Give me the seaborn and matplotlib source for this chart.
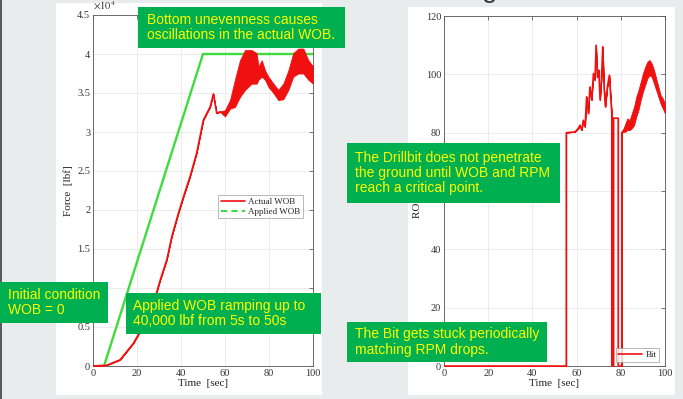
import numpy as np
import matplotlib
matplotlib.use("Agg")
import matplotlib.pyplot as plt
import seaborn as sns
from matplotlib.patches import Rectangle
from matplotlib.lines import Line2D
from matplotlib.ticker import FuncFormatter

# ---------------- data ----------------
# Left panel: force in units of 10^4 lbf
t_applied = [0, 5, 50, 100]
wob_applied = [0, 0, 4.0, 4.0]

t_actual = [0, 6.2, 12.3, 18.3, 24.4, 27.4, 30.5, 33.5, 35.8, 38.8,
            41.1, 44.1, 47.1, 48.6, 50.1, 51.7, 53.2, 54.7, 56.2, 57.7,
            60.0, 62.3, 64.5, 66.8, 69.1, 72.1, 74.4, 75.2, 76.7, 78.2,
            79.7, 82.0, 84.2, 86.5, 88.8, 91.0, 93.3, 95.6, 97.9, 100]
wob_low = [0, 0.01, 0.08, 0.29, 0.59, 0.80, 1.10, 1.36, 1.66, 1.96,
           2.17, 2.43, 2.73, 2.94, 3.15, 3.24, 3.32, 3.49, 3.24, 3.26,
           3.20, 3.30, 3.32, 3.45, 3.54, 3.62, 3.62, 3.67, 3.71, 3.67,
           3.58, 3.50, 3.41, 3.42, 3.54, 3.71, 3.75, 3.75, 3.67, 3.62]
wob_high = [0, 0.01, 0.08, 0.29, 0.59, 0.80, 1.10, 1.36, 1.66, 1.96,
            2.17, 2.43, 2.73, 2.94, 3.15, 3.24, 3.32, 3.49, 3.24, 3.26,
            3.28, 3.41, 3.67, 3.92, 4.05, 4.05, 4.01, 3.84, 3.92, 3.79,
            3.71, 3.62, 3.54, 3.62, 3.79, 4.01, 4.07, 4.07, 3.92, 3.84]

# Right panel: ROP of the bit
t_rop = [0, 55.3, 55.3, 59.3, 60.8, 61.5, 62.3, 63.0, 63.8, 64.5,
         65.3, 66.0, 66.8, 67.6, 68.3, 68.8, 69.4, 70.0, 70.6, 71.2,
         71.8, 72.4, 73.0, 73.9, 74.8, 75.4, 75.9, 75.9, 76.6, 76.6,
         78.8, 78.8, 80.4, 80.4,
         81, 82, 83, 84, 85, 86, 87, 88, 89, 90,
         91, 92, 93, 94, 95, 96, 97, 98, 99, 100]
rop_spikes = [0, 0, 80, 80.3, 81.5, 82.6, 80.9, 84.3, 82, 92.3,
              86.6, 95.7, 91.2, 100.3, 98, 110, 99, 101.5, 91.2, 98,
              109.5, 95.7, 88.9, 95.7, 99.7, 92.3, 86.6, 0, 0, 85,
              85, 0, 0, 80]
rop_band_low = [80.3, 80.3, 80.9, 80.9, 81.5, 82.6, 85.5, 87.8, 91.2, 94,
                96.3, 98.6, 99.7, 99.1, 96.9, 94.6, 92.3, 90, 88.3, 86.6]
rop_band_high = [80.8, 83, 84.9, 84.3, 86.6, 88.9, 92.3, 94.6, 97.4, 100.3,
                 102.5, 104.3, 104.9, 103.7, 101.5, 98.6, 95.7, 92.9, 91.7, 90]

x_ticks = [0, 20, 40, 60, 80, 100]
wob_ticks = [0, 0.5, 1, 1.5, 2, 2.5, 3, 3.5, 4, 4.5]
rop_ticks = [0, 20, 40, 60, 80, 100, 120]

notes = [
    ("Bottom unevenness causes\noscillations in the actual WOB.", (138, 7, 345, 48), 147),
    ("Initial condition\nWOB = 0", (0, 282, 108, 323), 8),
    ("Applied WOB ramping up to\n40,000 lbf from 5s to 50s", (126, 293, 321, 334), 133),
    ("The Drillbit does not penetrate\nthe ground until WOB and RPM\nreach a critical point.", (347, 143, 560, 203), 355),
    ("The Bit gets stuck periodically\nmatching RPM drops.", (347, 322, 547, 362), 355),
]

# ---------------- style ----------------
sns.set_style("white")
plt.rcParams['font.family'] = ['Liberation Serif', 'DejaVu Serif']
plt.rcParams['mathtext.fontset'] = 'stix'

W, H = 683, 399
fig = plt.figure(figsize=(W / 100, H / 100), dpi=100, facecolor='#e8ecec')

def fx(x):
    return x / W

def fy(y):
    return 1 - y / H

# white "pasted" panels
for (x0, y0, x1, y1) in [(56, 3, 322, 395), (408, 7, 675, 395)]:
    fig.add_artist(Rectangle((fx(x0), fy(y1)), fx(x1 - x0), (y1 - y0) / H,
                             transform=fig.transFigure, facecolor='white',
                             edgecolor='none', zorder=-5))
fig.add_artist(Rectangle((0, 0), 1.5 / W, 1, transform=fig.transFigure,
                         facecolor='#5a5a5a', edgecolor='none', zorder=-4))

ax1 = fig.add_axes([fx(93), fy(366), fx(220), 351 / H])
ax2 = fig.add_axes([fx(444), fy(366), fx(221), 350 / H])

red = '#f01010'
green = '#3fdc3f'

# ---- left panel ----
sns.lineplot(x=t_applied, y=wob_applied, ax=ax1, color=green, lw=1.7,
             estimator=None, sort=False, legend=False, zorder=2)
ax1.fill_between(t_actual, wob_low, wob_high, color=red, lw=0.6, zorder=3)
wob_mid = (np.array(wob_low) + np.array(wob_high)) / 2
sns.lineplot(x=t_actual, y=wob_mid, ax=ax1, color=red, lw=1.1,
             estimator=None, sort=False, legend=False, zorder=3)
ax1.set_xlim(0, 100)
ax1.set_ylim(0, 4.5)
ax1.set_yticks(wob_ticks)
ax1.yaxis.set_major_formatter(FuncFormatter(lambda v, p: f'{v:g}'))
ax1.text(0, 1.008, r'$\times10^{4}$', transform=ax1.transAxes, ha='left',
         va='bottom', fontsize=7.5, color='#333333')
ax1.set_ylabel('Force  [lbf]', fontsize=8, labelpad=3, color='#222222')
handles = [Line2D([], [], color=red, lw=1.2),
           Line2D([], [], color=green, lw=1.5, ls=(0, (3, 2)))]
leg1 = ax1.legend(handles, ['Actual WOB', 'Applied WOB'], loc='upper right',
                  bbox_to_anchor=(0.955, 0.487), borderaxespad=0,
                  fontsize=6.5, frameon=True, fancybox=False,
                  handlelength=2.6, handletextpad=0.4, borderpad=0.3,
                  labelspacing=0.15)

# ---- right panel ----
rop_low = rop_spikes + rop_band_low
rop_high = rop_spikes + rop_band_high
ax2.fill_between(t_rop, rop_low, rop_high, color=red, lw=0.6, zorder=3)
rop_mid = (np.array(rop_low) + np.array(rop_high)) / 2
sns.lineplot(x=t_rop, y=rop_mid, ax=ax2, color=red, lw=1.1,
             estimator=None, sort=False, legend=False, zorder=3)
ax2.set_xlim(0, 100)
ax2.set_ylim(0, 120)
ax2.set_yticks(rop_ticks)
ax2.set_ylabel('ROP  [ft/hr]', fontsize=8, labelpad=3, color='#222222')
leg2 = ax2.legend([Line2D([], [], color=red, lw=1.2)], ['Bit'],
                  loc='lower right', bbox_to_anchor=(0.973, 0.011),
                  borderaxespad=0, fontsize=6.5, frameon=True, fancybox=False,
                  handlelength=2.6, handletextpad=0.4, borderpad=0.3)

for ax in (ax1, ax2):
    ax.set_facecolor('white')
    ax.set_xticks(x_ticks)
    ax.set_xlabel('Time  [sec]', fontsize=8, labelpad=1, color='#222222')
    ax.grid(True, color='#e4e4e4', lw=0.5)
    ax.set_axisbelow(True)
    ax.tick_params(direction='in', top=True, right=True, length=3,
                   width=0.5, labelsize=7.5, pad=2, colors='#444444',
                   labelcolor='#333333')
    for s in ax.spines.values():
        s.set_linewidth(0.6)
        s.set_color('#555555')
    for leg in (leg1, leg2):
        leg.get_frame().set_edgecolor('#999999')
        leg.get_frame().set_linewidth(0.6)

# ---- green annotation boxes ----
for text, (x0, y0, x1, y1), tx in notes:
    fig.add_artist(Rectangle((fx(x0), fy(y1)), fx(x1 - x0), (y1 - y0) / H,
                             transform=fig.transFigure, facecolor='#00b050',
                             edgecolor='none', zorder=10))
    fig.text(fx(tx), fy((y0 + y1) / 2), text, ha='left', va='center',
             fontsize=10, color='#ffff00', family='Liberation Sans',
             linespacing=1.1, zorder=11)

# cut-off title fragment at the top edge
fig.text(fx(490), 1 + 2.5 / H, 'g', ha='center', va='baseline', fontsize=20,
         family='Liberation Sans', color='#3a3a3a', zorder=11)

fig.savefig('out.png', dpi=100, facecolor=fig.get_facecolor())
